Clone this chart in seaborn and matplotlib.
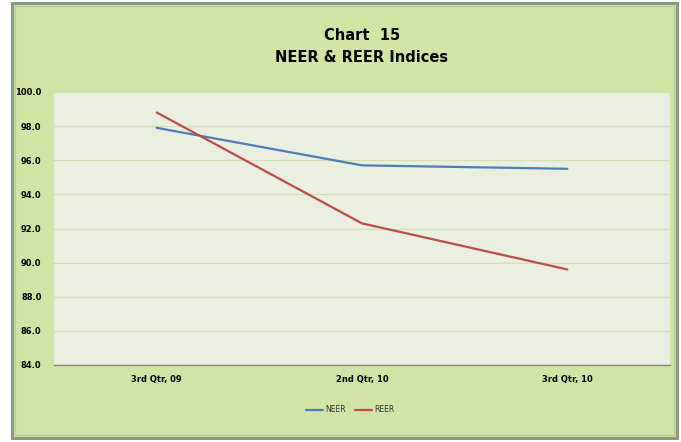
import matplotlib
matplotlib.use("Agg")
import matplotlib.pyplot as plt
import seaborn as sns
import pandas as pd
from matplotlib.patches import Rectangle
from matplotlib.lines import Line2D

quarters = ["3rd Qtr, 09", "2nd Qtr, 10", "3rd Qtr, 10"]
neer = [97.9, 95.7, 95.5]
reer = [98.8, 92.3, 89.6]
yticks = [84.0, 86.0, 88.0, 90.0, 92.0, 94.0, 96.0, 98.0, 100.0]

df = pd.DataFrame({
    "Quarter": quarters * 2,
    "Index": neer + reer,
    "Series": ["NEER"] * 3 + ["REER"] * 3,
})

sns.set_style("white")
plt.rcParams["font.family"] = ["DejaVu Sans"]
plt.rcParams["text.color"] = "black"
plt.rcParams["xtick.color"] = "black"
plt.rcParams["ytick.color"] = "black"

W, H = 681, 442
fig = plt.figure(figsize=(W / 100, H / 100), dpi=100)
fig.patch.set_facecolor("white")

# chart area background with border
outer = Rectangle((12 / W, 1 - 438 / H), (677 - 12) / W, (438 - 3) / H,
                  transform=fig.transFigure, facecolor="#D2E3A6",
                  edgecolor="#8C9A80", linewidth=2.2, zorder=-2)
fig.patches.append(outer)
inner = Rectangle((15 / W, 1 - 435 / H), (674 - 15) / W, (435 - 6) / H,
                  transform=fig.transFigure, facecolor="none",
                  edgecolor="#B9C6A0", linewidth=0.8, zorder=-1)
fig.patches.append(inner)

left, right, top, bottom = 54, 670, 92, 365
ax = fig.add_axes([left / W, 1 - bottom / H, (right - left) / W, (bottom - top) / H])
ax.set_facecolor("#EBEFDF")
ax.set_zorder(1)

sns.lineplot(data=df, x="Quarter", y="Index", hue="Series", sort=False,
             palette={"NEER": "#4A7EBB", "REER": "#BE4B48"}, linewidth=1.6,
             ax=ax, legend=False)

ax.set_xlim(-0.5, 2.5)
ax.set_ylim(84, 100)
ax.set_yticks(yticks)
ax.set_yticklabels([f"{v:.1f}" for v in yticks], fontsize=6, fontweight="bold")
ax.set_xticks(range(3))
ax.set_xticklabels(quarters, fontsize=6, fontweight="bold")
ax.tick_params(axis="y", length=0, pad=9, colors="black")
ax.tick_params(axis="x", length=0, pad=7, colors="black")
ax.set_xlabel("")
ax.set_ylabel("")
ax.grid(axis="y", color="#D4DFB6", linewidth=0.9)
ax.set_axisbelow(True)
for s in ["top", "right", "left"]:
    ax.spines[s].set_visible(False)
ax.spines["bottom"].set_color("#868686")
ax.spines["bottom"].set_linewidth(1.0)

fig.text(362 / W, 1 - 35 / H, "Chart  15", ha="center", va="center",
         fontsize=10.5, fontweight="bold", color="black")
fig.text(362 / W, 1 - 58 / H, "NEER & REER Indices", ha="center", va="center",
         fontsize=10.5, fontweight="bold", color="black")

handles = [Line2D([0], [0], color="#4A7EBB", lw=1.6),
           Line2D([0], [0], color="#BE4B48", lw=1.6)]
fig.legend(handles, ["NEER", "REER"], loc="center", bbox_to_anchor=(350 / W, 1 - 410 / H),
           ncol=2, frameon=False, fontsize=5.5, handlelength=2.2, handletextpad=0.3,
           columnspacing=1.2, labelcolor="#333333")

fig.savefig("out.png", dpi=100, facecolor=fig.get_facecolor())
